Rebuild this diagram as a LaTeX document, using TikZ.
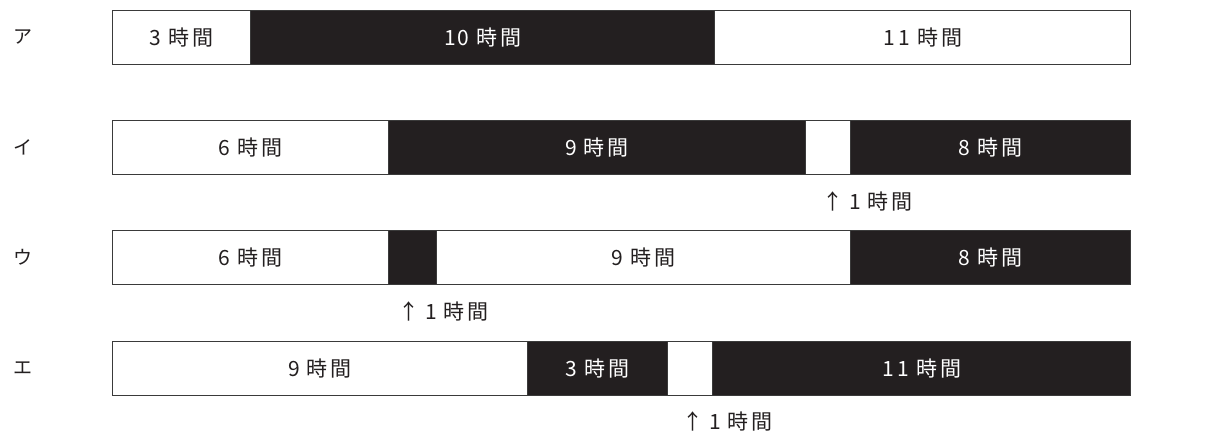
\documentclass[tikz,border=0pt]{standalone}
\usepackage{fontspec}
\setmainfont{Noto Sans CJK JP}
\definecolor{ink}{HTML}{231F20}
\definecolor{edge}{HTML}{3A3A3A}
\newcommand\jikan{\hspace{7pt}時\hspace{3pt}間}
\begin{document}
\begin{tikzpicture}[x=1pt,y=-1pt,
  segbase/.style={draw=edge, line width=1.3pt, anchor=north west, inner sep=0pt,
    minimum height=54pt, font=\fontsize{21}{24}\selectfont},
  wseg/.style={segbase, fill=white, text=ink},
  bseg/.style={segbase, fill=ink, text=white},
  rowlabel/.style={font=\fontsize{19}{22}\selectfont, text=ink, inner sep=0pt},
  note/.style={font=\fontsize{21}{24}\selectfont, text=ink, inner sep=0pt, anchor=west}]
\useasboundingbox (0,0) rectangle (1215,432);
% row A
\node[rowlabel] (la) at (23,37) {ア};
\node[wseg, minimum width=138pt] (a1) at (112,10) {3\jikan};
\node[bseg, minimum width=464pt] (a2) at (250,10) {1\hspace{2pt}0\jikan};
\node[wseg, minimum width=416pt] (a3) at (714,10) {1\hspace{4pt}1\jikan};
% row I
\node[rowlabel] (li) at (23,147) {イ};
\node[wseg, minimum width=276pt] (i1) at (112,120) {6\jikan};
\node[bseg, minimum width=417pt] (i2) at (388,120) {9\jikan};
\node[wseg, minimum width=45pt] (i3) at (805,120) {};
\node[bseg, minimum width=280pt] (i4) at (850,120) {8\jikan};
\node[note] (ni) at (822,201) {↑\hspace{6pt}1\jikan};
% row U
\node[rowlabel] (lu) at (23,257) {ウ};
\node[wseg, minimum width=276pt] (u1) at (112,230) {6\jikan};
\node[bseg, minimum width=48pt] (u2) at (388,230) {};
\node[wseg, minimum width=414pt] (u3) at (436,230) {9\jikan};
\node[bseg, minimum width=280pt] (u4) at (850,230) {8\jikan};
\node[note] (nu) at (398,311) {↑\hspace{6pt}1\jikan};
% row E
\node[rowlabel] (le) at (23,368) {エ};
\node[wseg, minimum width=415pt] (e1) at (112,341) {9\jikan};
\node[bseg, minimum width=140pt] (e2) at (527,341) {3\jikan};
\node[wseg, minimum width=45pt] (e3) at (667,341) {};
\node[bseg, minimum width=418pt] (e4) at (712,341) {1\hspace{4pt}1\jikan};
\node[note] (ne) at (682,421) {↑\hspace{6pt}1\jikan};
\end{tikzpicture}
\end{document}
